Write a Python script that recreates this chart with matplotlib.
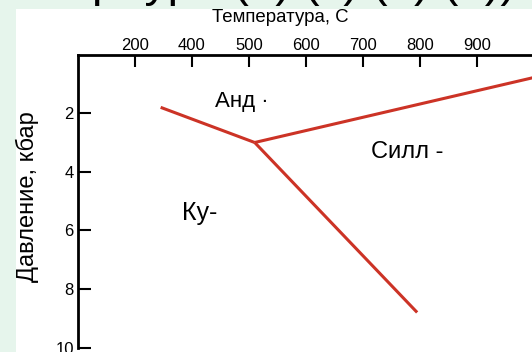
import numpy as np
import matplotlib
matplotlib.use("Agg")
import matplotlib.pyplot as plt
from matplotlib.patches import Rectangle

# top axis: the labels are evenly spaced on the original figure
temp_ticks = [200, 400, 500, 600, 700, 800, 900]
press_ticks = [2, 4, 6, 8, 10]

# reaction lines of Al2SiO5 (T in C, P in kbar)
ky_and_T = [290, 510]
ky_and_P = [1.8, 3.0]
and_sill_T = [510, 1000]
and_sill_P = [3.0, 0.78]
ky_sill_T = [510, 795]
ky_sill_P = [3.0, 8.8]

phase_labels = ["Анд ·", "Силл -", "Ку-"]
label_T = [487, 778, 414]
label_P = [1.6, 3.33, 5.4]
label_size = [16, 17, 18]

RED = "#cc3326"
GREEN = "#e6f5ec"

# piecewise scale so the uneven tick values sit at equal steps
axis_T = [100] + temp_ticks + [1000]
axis_idx = np.arange(-1, len(temp_ticks) + 1)


def fwd(t):
    return np.interp(t, axis_T, axis_idx)


def inv(i):
    return np.interp(i, axis_idx, axis_T)


plt.rcParams['font.family'] = ['Liberation Sans', 'DejaVu Sans']

W, H = 532, 352
fig = plt.figure(figsize=(W / 100, H / 100), dpi=100)
fig.patch.set_facecolor(GREEN)
fig.patches.append(Rectangle((16 / W, 0), 1, 1 - 9 / H, transform=fig.transFigure,
                             facecolor="white", edgecolor="none", zorder=0))

# cut-off slide heading above the chart (only its lower edge shows)
fig.text(92 / W, 1 + 4 / H, "р  ур   (о) (с) (о) (о))", fontsize=34,
         ha="left", va="baseline", zorder=1)

ax = fig.add_axes([78 / W, 4.4 / H, 456 / W, 293 / H])
ax.set_zorder(2)
ax.set_facecolor("none")
ax.set_xscale("function", functions=(fwd, inv))
ax.set_xlim(100, 1000)
ax.set_ylim(10, 0)

ax.plot(ky_and_T, ky_and_P, color=RED, lw=2.2, solid_capstyle="butt")
ax.plot(and_sill_T, and_sill_P, color=RED, lw=2.2, solid_capstyle="butt", clip_on=False)
ax.plot(ky_sill_T, ky_sill_P, color=RED, lw=2.2, solid_capstyle="butt")

for txt, t, p, s in zip(phase_labels, label_T, label_P, label_size):
    ax.text(t, p, txt, fontsize=s, ha="center", va="center")

ax.xaxis.tick_top()
ax.set_xticks(temp_ticks)
ax.set_xticklabels([str(t) for t in temp_ticks])
ax.set_yticks(press_ticks)
ax.minorticks_off()
ax.tick_params(axis="both", direction="in", width=1.5, labelsize=12)
ax.tick_params(axis="x", length=8.5, pad=1)
ax.tick_params(axis="y", length=9.5, pad=3)
for side in ["right", "bottom"]:
    ax.spines[side].set_visible(False)
for side in ["left", "top"]:
    ax.spines[side].set_linewidth(2)

fig.text(280 / W, 1 - 17 / H, "Температура, С", fontsize=13.4, ha="center", va="center")
fig.text(27 / W, 1 - 197 / H, "Давление, кбар", fontsize=17, rotation=90,
         ha="center", va="center")

fig.savefig("out.png", dpi=100)
